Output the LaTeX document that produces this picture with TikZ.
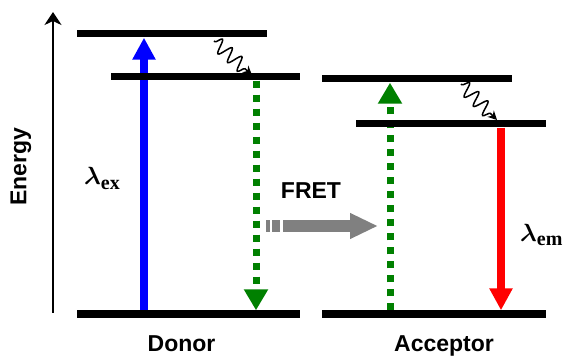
\documentclass[tikz,border=0pt]{standalone}
\usepackage{amsmath}
\usepackage{fontspec}
\setmainfont{Liberation Sans}
\newfontfamily\serifx{Liberation Serif}
\usetikzlibrary{arrows.meta,decorations.pathmorphing,positioning}
\definecolor{fretgreen}{RGB}{0,128,0}
\definecolor{fretgray}{RGB}{128,128,128}

\begin{document}
\begin{tikzpicture}[x=1pt,y=-1pt,
    level/.style={rectangle, fill=black, inner sep=0pt, minimum height=7pt},
    absorb/.style={line width=8pt, blue, -{Triangle[width=22pt,length=22pt]}},
    emit/.style={line width=8pt, red, -{Triangle[width=22pt,length=22pt]}},
    dotgreen/.style={line width=7pt, fretgreen, dash pattern=on 7pt off 7pt, -{Triangle[width=23pt,length=21pt]}},
    wavy/.style={line width=1.5pt, decorate, decoration={snake, amplitude=7pt, segment length=13pt, pre length=1pt, post length=7pt}, -{Stealth[length=9pt,width=9pt]}},
    lbl/.style={font=\bfseries\fontsize{23}{23}\selectfont}
]
\useasboundingbox (0,0) rectangle (576,358);

% Energy axis
\coordinate (eBot) at (53,313);
\coordinate (eTop) at (53,12);
\draw[line width=2.5pt, -{Stealth[length=13pt,width=17pt,inset=4pt]}] (eBot) -- (eTop);
\node[lbl, rotate=90] (energy) at (21,167) {Energy};

% Arrow positions
\coordinate (exX) at (144,0);
\coordinate (dgX) at (256,0);
\coordinate (agX) at (390,0);
\coordinate (emX) at (501,0);

% Transitions
\node[level, minimum width=190pt] (dS1) at (172,34) {};
\node[level, minimum width=189pt] (dS1v) at (205.5,77) {};
\node[level, minimum width=223pt] (dS0) at (188.5,314) {};
\node[level, minimum width=190pt] (aS1) at (417,79) {};
\node[level, minimum width=190pt] (aS1v) at (451,124) {};
\node[level, minimum width=224pt] (aS0) at (434,314) {};

\draw[absorb] (exX |- dS0.north) -- (exX |- dS1.south);
\draw[dotgreen] (dgX |- dS1v.south) -- (dgX |- dS0.north);
\draw[dotgreen] (agX |- aS0.north) -- (agX |- aS1.south);
\draw[emit] (emX |- aS1v.south) -- (emX |- aS0.north);

% Relaxation
\coordinate (wd1) at (214,41);
\coordinate (wd2) at (252,75);
\coordinate (wa1) at (461,84);
\coordinate (wa2) at (497,120);
\draw[wavy] (wd1) -- (wd2);
\draw[wavy] (wa1) -- (wa2);

% FRET
\coordinate (fretL) at (266,226);
\coordinate (fretR) at (378,226);
\draw[line width=12pt, fretgray, dash pattern=on 4pt off 2pt on 8pt off 3pt on 200pt, -{Triangle[width=24pt,length=28pt]}] (fretL) -- (fretR);
\node[lbl] (fret) at (311,191) {FRET};

% Labels
\node[anchor=base west, inner sep=0pt] (lex) at (84,185) {\fontsize{32}{32}\selectfont$\boldsymbol{\lambda}$\raisebox{-5pt}{\serifx\bfseries\fontsize{20}{20}\selectfont ex}};
\node[anchor=base west, inner sep=0pt] (lem) at (520,242) {\fontsize{32}{32}\selectfont$\boldsymbol{\lambda}$\raisebox{-4pt}{\serifx\bfseries\fontsize{20}{20}\selectfont em}};
\node[lbl, anchor=base] (donor) at (181.5,351) {Donor};
\node[lbl, anchor=base] (acceptor) at (444,351) {Acceptor};

% levels on top
\node[level, minimum width=190pt] at (dS1) {};
\node[level, minimum width=189pt] at (dS1v) {};
\node[level, minimum width=223pt] at (dS0) {};
\node[level, minimum width=190pt] at (aS1) {};
\node[level, minimum width=190pt] at (aS1v) {};
\node[level, minimum width=224pt] at (aS0) {};

\end{tikzpicture}
\end{document}
